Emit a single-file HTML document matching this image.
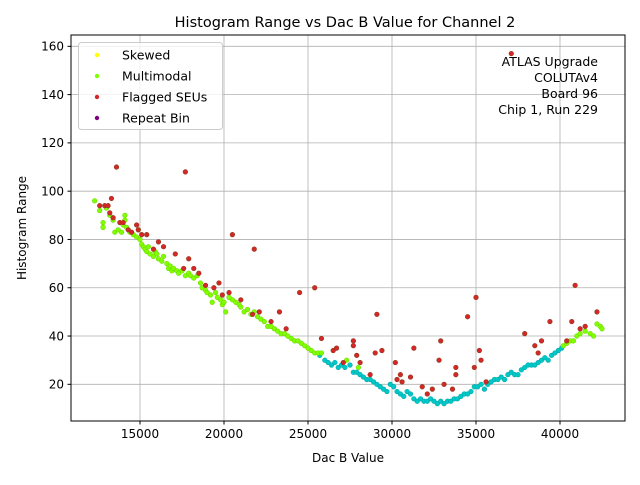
<!DOCTYPE html>
<html><head><meta charset="utf-8"><style>
body{margin:0;background:#fff;font-family:"Liberation Sans","DejaVu Sans",sans-serif}
svg text{font-family:"DejaVu Sans","Liberation Sans",sans-serif}
</style></head><body>
<svg id="chart" width="640" height="480" xmlns="http://www.w3.org/2000/svg">
<rect width="640" height="480" fill="#fff"/>
<text x="345" y="27" font-size="14.5" text-anchor="middle">Histogram Range vs Dac B Value for Channel 2</text>
<g id="grid"></g>
<g id="marks"></g>
<rect x="71" y="35" width="554" height="386" fill="none" stroke="#000" stroke-width="1"/>
<g id="ticks"></g>
<text x="348" y="462" font-size="12" text-anchor="middle">Dac B Value</text>
<text transform="translate(26,228) rotate(-90)" font-size="12" text-anchor="middle">Histogram Range</text>
<g font-size="12.5" text-anchor="end">
<text x="598" y="66">ATLAS Upgrade</text>
<text x="598" y="82">COLUTAv4</text>
<text x="598" y="98">Board 96</text>
<text x="598" y="114">Chip 1, Run 229</text>
</g>
<g>
<rect x="78.5" y="42.5" width="144" height="87" rx="3" fill="#fff" fill-opacity="0.8" stroke="#ccc"/>
<circle cx="97" cy="55" r="2.2" fill="#ffff00"/>
<text x="122" y="59.5" font-size="12.5">Skewed</text>
<circle cx="97" cy="76" r="2.2" fill="#7fff00"/>
<text x="122" y="80.5" font-size="12.5">Multimodal</text>
<circle cx="97" cy="97" r="2.2" fill="#d62728"/>
<text x="122" y="101.5" font-size="12.5">Flagged SEUs</text>
<circle cx="97" cy="118" r="2.2" fill="#800080"/>
<text x="122" y="122.5" font-size="12.5">Repeat Bin</text>
</g>
</svg>
<script>
const xTicks=[15000,20000,25000,30000,35000,40000];
const yTicks=[20,40,60,80,100,120,140,160];
const multimodal=[[12300,96],[12600,92],[12800,87],[12800,85],[13000,93],[13200,90],[13400,88],[13500,83],[13700,84],[13900,83],[14000,86],[14100,88],[14100,90],[14200,85],[14400,83],[14600,82],[14800,81],[14900,84],[15000,80],[15100,78],[15200,77],[15300,76],[15400,75],[15500,77],[15600,74],[15800,73],[15900,75],[16000,74],[16100,72],[16300,71],[16400,73],[16600,70],[16700,68],[16800,69],[16900,67],[17000,68],[17200,67],[17300,66],[17500,67],[17700,65],[17900,66],[18000,65],[18200,64],[18400,65],[18600,62],[18700,60],[18900,59],[19000,58],[19200,57],[19300,54],[19500,58],[19600,56],[19800,55],[19900,53],[20000,54],[20100,50],[20300,56],[20500,55],[20700,54],[20900,53],[21000,52],[21200,50],[21400,51],[21600,49],[21800,50],[22000,48],[22200,47],[22400,46],[22600,44],[22800,44],[23000,43],[23200,42],[23400,41],[23600,41],[23800,40],[24000,39],[24200,38],[24400,38],[24600,37],[24800,36],[25000,35],[25200,34],[25400,33],[25600,33],[25800,33],[27300,30],[28000,27],[40200,36],[40400,37],[40600,38],[40800,38],[41000,40],[41200,41],[41500,42],[41800,41],[42000,40],[42200,45],[42400,44],[42500,43]];
const normal=[[25700,32],[26000,30],[26200,29],[26400,28],[26600,29],[26800,27],[27000,28],[27200,27],[27500,28],[27700,25],[27900,25],[28100,24],[28300,23],[28500,22],[28700,22],[28900,21],[29100,20],[29300,19],[29500,18],[29700,17],[29900,20],[30100,19],[30300,17],[30500,16],[30700,15],[30900,17],[31100,16],[31300,14],[31500,13],[31700,14],[31900,13],[32100,13],[32300,14],[32500,13],[32700,12],[32900,13],[33100,12],[33300,13],[33500,13],[33700,14],[33900,14],[34100,15],[34300,16],[34500,16],[34700,17],[34900,19],[35100,19],[35300,20],[35500,18],[35700,20],[35900,21],[36100,22],[36300,22],[36500,23],[36700,22],[36900,24],[37100,25],[37300,24],[37500,24],[37700,26],[37900,27],[38100,28],[38300,28],[38500,28],[38700,29],[38900,30],[39100,31],[39300,30],[39500,32],[39700,33],[39900,34],[40100,35]];
const flagged=[[12600,94],[12900,94],[13100,94],[13300,97],[13200,91],[13400,89],[13600,110],[13800,87],[14000,87],[14300,84],[14500,83],[14800,86],[14900,84],[15100,82],[15400,82],[15800,76],[16100,79],[16400,77],[17100,74],[17700,108],[17600,68],[17900,72],[18200,68],[18500,66],[18900,61],[19400,60],[19700,62],[19900,57],[20300,58],[20500,82],[21000,55],[21700,49],[21800,76],[22100,50],[22800,46],[23300,50],[23700,43],[24500,58],[25400,60],[25800,39],[26500,34],[26700,35],[27100,29],[27700,38],[27700,36],[27900,32],[28100,29],[28700,24],[29000,33],[29100,49],[29400,34],[30200,29],[30300,22],[30500,24],[30600,21],[31100,23],[31300,35],[31800,19],[32100,16],[32400,18],[32800,30],[32900,38],[33100,20],[33600,18],[33800,27],[33800,24],[34500,48],[34900,27],[35000,56],[35200,34],[35300,30],[35600,21],[37100,157],[37900,41],[38500,36],[38700,33],[38900,38],[39400,46],[40400,38],[40700,46],[40900,61],[41200,43],[41500,44],[42200,50]];
const NS='http://www.w3.org/2000/svg';
function sx(v){return 56+(v-10000)*84/5000;}
function sy(v){return 432.6-v*338/140;}
const grid=document.getElementById('grid'),ticks=document.getElementById('ticks'),marks=document.getElementById('marks');
function mk(tag,attrs,parent){const e=document.createElementNS(NS,tag);for(const k in attrs)e.setAttribute(k,attrs[k]);parent.appendChild(e);return e;}
xTicks.forEach(t=>{const x=sx(t);
const g=mk('line',{x1:x,x2:x,y1:35,y2:421,stroke:'#b0b0b0','stroke-width':0.8},grid);


mk('line',{x1:x,x2:x,y1:421,y2:424.5,stroke:'#000'},ticks);
const l=mk('text',{x:x,y:438,'font-size':12,'text-anchor':'middle'},ticks);l.textContent=t;

});
yTicks.forEach(t=>{const y=sy(t);
const g=mk('line',{x1:71,x2:625,y1:y,y2:y,stroke:'#b0b0b0','stroke-width':0.8},grid);


mk('line',{x1:67.5,x2:71,y1:y,y2:y,stroke:'#000'},ticks);
const l=mk('text',{x:64,y:y+4.3,'font-size':12,'text-anchor':'end'},ticks);l.textContent=t;

});
function draw(arr,fill,stroke,name){arr.forEach(p=>{const c=mk('circle',{cx:sx(p[0]),cy:sy(p[1]),r:2.3,fill:fill,stroke:stroke,'stroke-width':0.6},marks);

});}
draw(normal,'#00c8c8','#00a8a8','point-normal');
draw(multimodal,'#7fff00','#6fd800','point-multimodal');
draw(flagged,'#d62728','#8b3a1a','point-flagged');
</script>
</body></html>
